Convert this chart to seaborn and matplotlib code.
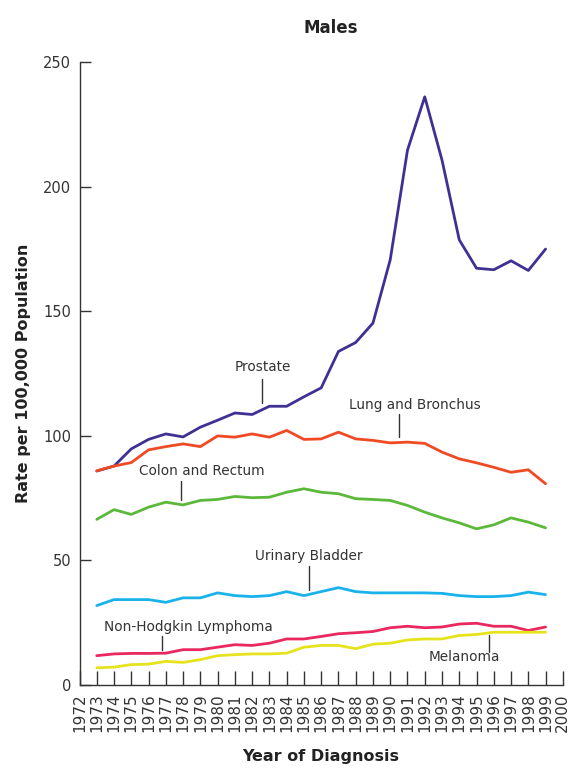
import pandas as pd
import matplotlib
matplotlib.use('Agg')
import matplotlib.pyplot as plt
import seaborn as sns

# Data (rate per 100,000, males)
years = list(range(1973, 2000))

prostate = [85.9, 87.9, 94.8, 98.6, 100.8, 99.6, 103.5, 106.3, 109.2, 108.6, 111.9, 111.9, 115.7, 119.3,
            133.9, 137.5, 145.3, 170.7, 214.7, 236.1, 210.7, 178.7, 167.3, 166.7, 170.3, 166.4, 175.0]
lung = [86.0, 87.9, 89.3, 94.4, 95.7, 96.8, 95.7, 100.0, 99.5, 100.8, 99.5, 102.2, 98.6, 98.8,
        101.5, 98.8, 98.2, 97.2, 97.5, 97.0, 93.5, 90.8, 89.2, 87.4, 85.4, 86.4, 80.8]
colon = [66.5, 70.4, 68.5, 71.4, 73.4, 72.3, 74.1, 74.5, 75.7, 75.2, 75.4, 77.4, 78.8, 77.4,
         76.8, 74.8, 74.5, 74.1, 72.1, 69.4, 67.1, 65.1, 62.7, 64.3, 67.1, 65.4, 63.1]
bladder = [31.9, 34.3, 34.3, 34.3, 33.2, 35.0, 35.0, 37.0, 35.9, 35.5, 35.9, 37.5, 35.9, 37.5,
           39.1, 37.5, 37.0, 37.0, 37.0, 37.0, 36.8, 35.9, 35.5, 35.5, 35.9, 37.3, 36.3]
nhl = [11.8, 12.5, 12.7, 12.7, 12.8, 14.2, 14.2, 15.2, 16.2, 15.9, 16.8, 18.5, 18.5, 19.5,
       20.6, 21.0, 21.5, 23.0, 23.6, 23.0, 23.3, 24.5, 24.8, 23.6, 23.6, 21.9, 23.3]
melanoma = [6.9, 7.2, 8.2, 8.4, 9.5, 9.1, 10.2, 11.8, 12.2, 12.5, 12.5, 12.8, 15.2, 15.9,
            15.9, 14.6, 16.4, 16.8, 18.1, 18.5, 18.5, 19.9, 20.3, 21.2, 21.2, 21.2, 21.2]

sites = ['Prostate', 'Lung and Bronchus', 'Colon and Rectum', 'Urinary Bladder',
         'Non-Hodgkin Lymphoma', 'Melanoma']
colors = ['#3f3194', '#f04a24', '#5cb83a', '#19b2ea', '#e8285e', '#e6e31c']

# label text position (year, rate) and leader line (year, rate bottom, rate top)
label_pos = [(1982.6, 127.5), (1991.4, 112.5), (1979.1, 85.8), (1985.3, 52.0), (1978.3, 23.5), (1994.3, 11.2)]
leader = [(1982.6, 113.4, 123.0), (1990.5, 99.5, 108.6), (1977.9, 74.3, 82.1), (1985.3, 38.3, 47.7),
          (1976.8, 13.9, 19.5), (1995.7, 19.9, 13.2)]

df = pd.DataFrame({'year': years * 6,
                   'rate': prostate + lung + colon + bladder + nhl + melanoma,
                   'site': [s for s in sites for _ in years]})

sns.set_style('white')
plt.rcParams['font.family'] = ['DejaVu Sans']

fig = plt.figure(figsize=(5.72, 7.68), dpi=100)
ax = fig.add_axes([0.139, 0.108, 0.845, 0.811])

sns.lineplot(data=df, x='year', y='rate', hue='site', palette=dict(zip(sites, colors)),
             linewidth=2.0, legend=False, ax=ax)

for s, (tx, ty), (lx, y0, y1) in zip(sites, label_pos, leader):
    ax.text(tx, ty, s, ha='center', va='center', fontsize=9.8, color='#333333')
    ax.plot([lx, lx], [y0, y1], color='#333333', linewidth=1)

ax.set_xlim(1972, 2000)
ax.set_ylim(0, 250)
ax.set_xticks(range(1972, 2001))
ax.set_xticklabels([str(y) for y in range(1972, 2001)], rotation=90, fontsize=11)
ax.set_yticks([0, 50, 100, 150, 200, 250])
ax.tick_params(axis='y', direction='in', length=8, width=1, labelsize=10.5, pad=6, colors='#333333',
               left=True)
ax.tick_params(axis='x', direction='in', length=10, width=1, pad=6, colors='#333333', bottom=True)
for side in ['top', 'right']:
    ax.spines[side].set_visible(False)
for side in ['left', 'bottom']:
    ax.spines[side].set_color('#333333')
    ax.spines[side].set_linewidth(1)

ax.set_title('Males', fontsize=12, fontweight='bold', color='#222222', pad=21, x=0.52)
ax.set_xlabel('Year of Diagnosis', fontsize=11.5, fontweight='bold', color='#222222', labelpad=12)
ax.set_ylabel('Rate per 100,000 Population', fontsize=11.5, fontweight='bold', color='#222222', labelpad=9)

fig.savefig('out.png', dpi=100)
